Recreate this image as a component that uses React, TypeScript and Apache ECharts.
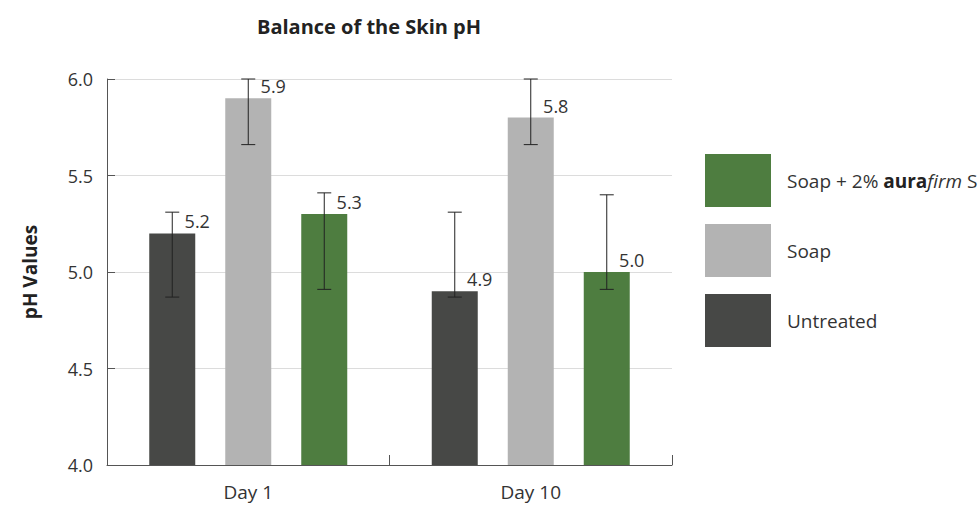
import React, { useEffect, useRef } from "react";
import * as echarts from "echarts";

const categories = ["Day 1", "Day 10"];
const seriesNames = ["Untreated", "Soap", "Soap + 2% aurafirm S"];
const untreated = [5.2, 4.9];
const soap = [5.9, 5.8];
const aurafirm = [5.3, 5.0];
const untreatedLow = [4.87, 4.87];
const untreatedHigh = [5.31, 5.31];
const soapLow = [5.66, 5.66];
const soapHigh = [6.0, 6.0];
const aurafirmLow = [4.91, 4.91];
const aurafirmHigh = [5.41, 5.4];
const colors = ["#474846", "#b3b3b3", "#4e7d40"];

const BAR_W = 46;
const GAP = 30;
const FONT = "'Open Sans', sans-serif";

export default function App() {
  const ref = useRef<HTMLDivElement>(null);
  useEffect(() => {
    if (!ref.current) return;
    const chart = echarts.init(ref.current, null, { renderer: "svg" });
    const values = [untreated, soap, aurafirm];
    const lows = [untreatedLow, soapLow, aurafirmLow];
    const highs = [untreatedHigh, soapHigh, aurafirmHigh];

    const barSeries = values.map((v, i) => ({
      name: seriesNames[i],
      type: "bar",
      data: v,
      barWidth: BAR_W,
      barGap: (GAP / BAR_W) * 100 + "%",
      barCategoryGap: "30%",
      itemStyle: { color: colors[i] },
      label: {
        show: true,
        position: "top",
        distance: 3,
        offset: [25, 0],
        fontFamily: FONT,
        fontSize: 18,
        color: "#333",
        formatter: (p: any) => Number(p.value).toFixed(1),
      },
      z: 2,
    }));

    const errSeries = values.map((v, i) => ({
      type: "custom",
      name: "err" + i,
      data: categories.map((_, k) => [k, lows[i][k], highs[i][k]]),
      z: 5,
      silent: true,
      renderItem: (params: any, api: any) => {
        const k = api.value(0);
        const lo = api.coord([k, api.value(1)]);
        const hi = api.coord([k, api.value(2)]);
        const x = lo[0] + (i - 1) * (BAR_W + GAP);
        const half = 7;
        const st = { stroke: "#222", lineWidth: 1 };
        return {
          type: "group",
          children: [
            { type: "line", shape: { x1: x, y1: lo[1], x2: x, y2: hi[1] }, style: st },
            { type: "line", shape: { x1: x - half, y1: lo[1], x2: x + half, y2: lo[1] }, style: st },
            { type: "line", shape: { x1: x - half, y1: hi[1], x2: x + half, y2: hi[1] }, style: st },
          ],
        };
      },
    }));

    chart.setOption({
      animation: false,
      textStyle: { fontFamily: FONT },
      title: {
        text: "Balance of the Skin pH",
        left: 369,
        top: 16,
        textAlign: "center",
        padding: 0,
        textStyle: { fontFamily: FONT, fontSize: 20, fontWeight: "bold", color: "#222" },
      },
      legend: {
        data: [seriesNames[2], seriesNames[1], seriesNames[0]],
        orient: "vertical",
        left: 705,
        top: 154,
        padding: 0,
        itemWidth: 66,
        itemHeight: 53,
        itemGap: 17,
        icon: "rect",
        selectedMode: false,
        textStyle: {
          fontFamily: FONT,
          fontSize: 19,
          color: "#333",
          padding: [0, 0, 0, 11],
          rich: {
            n: { fontFamily: FONT, fontSize: 19, color: "#333" },
            b: { fontFamily: FONT, fontSize: 19, color: "#222", fontWeight: "bold" },
            i: { fontFamily: FONT, fontSize: 19, color: "#333", fontStyle: "italic" },
          },
        },
        formatter: (name: string) =>
          name === seriesNames[2] ? "{n|Soap + 2% }{b|aura}{i|firm}{n| S}" : "{n|" + name + "}",
      },
      grid: { left: 107, right: 307, top: 79, bottom: 40, containLabel: false },
      xAxis: {
        type: "category",
        data: categories,
        axisLine: { lineStyle: { color: "#555", width: 1 } },
        axisTick: { show: true, inside: true, length: 10, lineStyle: { color: "#555" } },
        axisLabel: { fontFamily: FONT, fontSize: 19, color: "#333", margin: 17 },
      },
      yAxis: {
        type: "value",
        min: 4,
        max: 6,
        interval: 0.5,
        name: "pH Values",
        nameLocation: "middle",
        nameGap: 68,
        nameRotate: 90,
        nameTextStyle: { fontFamily: FONT, fontSize: 19, fontWeight: "bold", color: "#222" },
        axisLine: { show: true, lineStyle: { color: "#555", width: 1 } },
        axisTick: { show: true, inside: true, length: 8, lineStyle: { color: "#555" } },
        axisLabel: {
          fontFamily: FONT,
          fontSize: 18,
          color: "#333",
          margin: 14,
          formatter: (v: number) => v.toFixed(1),
        },
        splitLine: { show: true, lineStyle: { color: "#dcdcdc", width: 1 } },
      },
      series: [...barSeries, ...errSeries],
    });
    return () => chart.dispose();
  }, []);
  return <div ref={ref} style={{ width: 979, height: 505, position: "absolute", left: 0, top: 0 }} />;
}
